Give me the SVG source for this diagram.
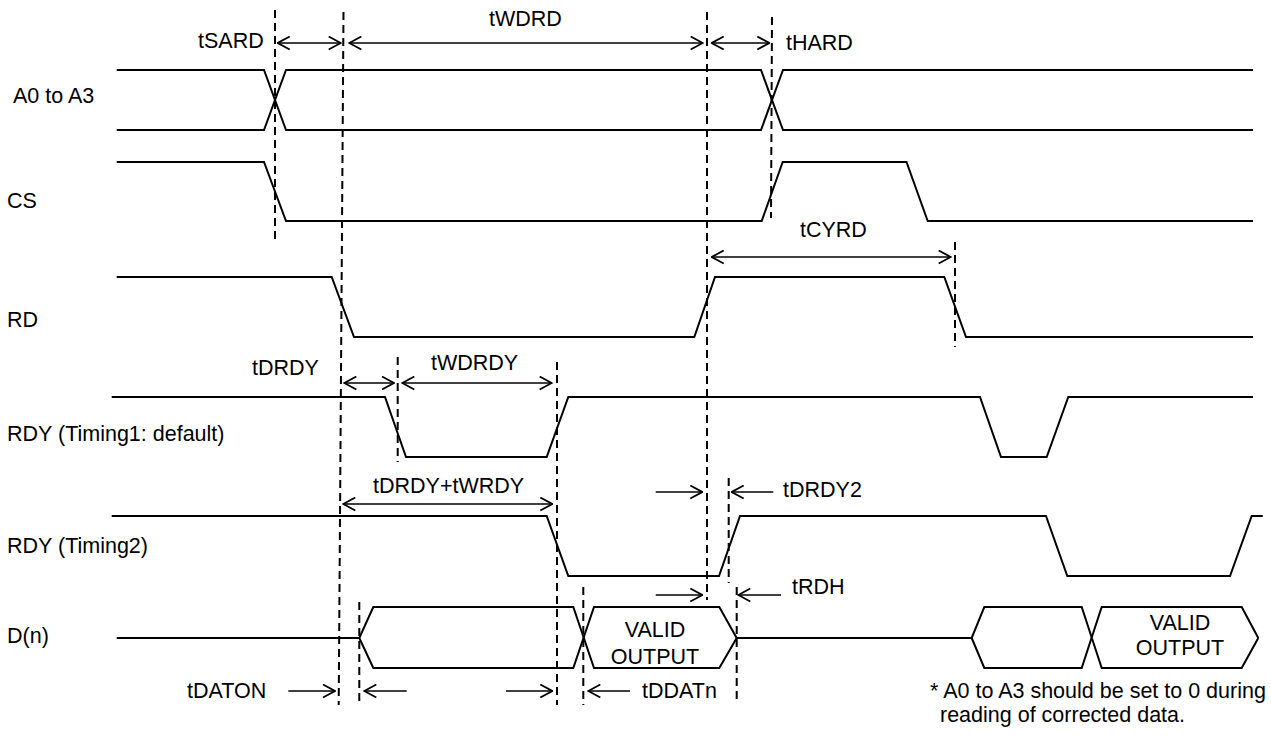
<svg xmlns="http://www.w3.org/2000/svg" width="1271" height="745" viewBox="0 0 1271 745">
<defs>
<style>
text{font-family:"Liberation Sans",Arial,sans-serif;font-size:21.5px;fill:#000}
.sig{fill:none;stroke:#000;stroke-width:2;stroke-linejoin:miter}
.dash{fill:none;stroke:#000;stroke-width:2;stroke-dasharray:8 5}
.dim{fill:none;stroke:#000;stroke-width:1.6}
.da{marker-start:url(#ah);marker-end:url(#ah)}
.sa{marker-end:url(#ah)}
.mid{text-anchor:middle}
</style>
<marker id="ah" viewBox="0 0 14 15" refX="13" refY="7.5" markerWidth="14" markerHeight="15" markerUnits="userSpaceOnUse" orient="auto-start-reverse">
<path d="M1,1 L13,7.5 L1,14" fill="none" stroke="#000" stroke-width="1.8"/>
</marker>
</defs>
<rect width="1271" height="745" fill="#fff"/>

<g id="sig-a0a3">
<text x="13" y="103">A0 to A3</text>
<path class="sig" d="M116.7,70 L264,70 L286,130 L761,130 L783,70 L1253,70"/>
<path class="sig" d="M116.7,130 L264,130 L286,70 L761,70 L783,130 L1253,130"/>
</g>
<g id="sig-cs">
<text x="7" y="208">CS</text>
<path class="sig" d="M116.7,162 L264,162 L286,221 L761.7,221 L782.7,162 L906.5,162 L927.7,221 L1253,221"/>
</g>
<g id="sig-rd">
<text x="7" y="327">RD</text>
<path class="sig" d="M116.7,277 L331.7,277 L354,337 L694.3,337 L715,277 L944.3,277 L966,337 L1253,337"/>
</g>
<g id="sig-rdy1">
<text x="7" y="441">RDY (Timing1: default)</text>
<path class="sig" d="M111.7,397 L385,397 L406,457 L546.7,457 L568.3,397 L980,397 L1001,457 L1046.7,457 L1068.3,397 L1253,397"/>
</g>
<g id="sig-rdy2">
<text x="7" y="553">RDY (Timing2)</text>
<path class="sig" d="M111.7,516 L546.7,516 L568.3,576 L719,576 L740,516 L1046,516 L1067.3,576 L1230,576 L1251.7,516 L1262.7,516"/>
</g>
<g id="sig-dn">
<text x="7" y="643">D(n)</text>
<path class="sig" d="M116.7,638 L359.3,638 L373.3,607 L573.3,607 L594,668 L719.3,668 L736.7,638 L971.7,638 L984.3,607 L1081.7,607 L1101.7,668 L1241.7,668 L1258.3,638"/>
<path class="sig" d="M359.3,638 L373.3,668 L573.3,668 L594,607 L719.3,607 L736.7,638 M971.7,638 L984.3,668 L1081.7,668 L1101.7,607 L1241.7,607 L1258.3,638"/>
<text class="mid" x="655" y="637">VALID</text>
<text class="mid" x="655" y="664">OUTPUT</text>
<text class="mid" x="1180" y="630">VALID</text>
<text class="mid" x="1180" y="655">OUTPUT</text>
</g>

<g id="guides">
<line class="dash" x1="275" y1="10" x2="275" y2="242"/>
<line class="dash" x1="343.5" y1="12" x2="338.7" y2="705"/>
<line class="dash" x1="707" y1="12" x2="707" y2="600"/>
<line class="dash" x1="772" y1="17" x2="771" y2="218"/>
<line class="dash" x1="955" y1="242" x2="955" y2="347"/>
<line class="dash" x1="397.7" y1="357" x2="397.7" y2="462"/>
<line class="dash" x1="557" y1="362" x2="557" y2="705"/>
<line class="dash" x1="359.3" y1="602" x2="359.3" y2="705"/>
<line class="dash" x1="583.3" y1="587" x2="583.3" y2="705"/>
<line class="dash" x1="728.7" y1="478" x2="728.7" y2="583"/>
<line class="dash" x1="736.7" y1="587" x2="736.7" y2="700"/>
</g>

<g id="connectors">
<line class="dim da" x1="277.7" y1="43" x2="340.7" y2="43"/>
<line class="dim da" x1="349.3" y1="43" x2="702.7" y2="43"/>
<line class="dim da" x1="711.7" y1="43" x2="769.3" y2="43"/>
<line class="dim da" x1="711.7" y1="257" x2="950.7" y2="257"/>
<line class="dim da" x1="344.3" y1="383" x2="394" y2="383"/>
<line class="dim da" x1="402.3" y1="383" x2="551.7" y2="383"/>
<line class="dim da" x1="343.3" y1="504" x2="552.3" y2="504"/>
<line class="dim sa" x1="655.7" y1="492" x2="702.3" y2="492"/>
<line class="dim sa" x1="773.3" y1="492" x2="731.7" y2="492"/>
<line class="dim sa" x1="655.7" y1="595" x2="702.3" y2="595"/>
<line class="dim sa" x1="781" y1="595" x2="738.3" y2="595"/>
<line class="dim sa" x1="288.3" y1="691" x2="335" y2="691"/>
<line class="dim sa" x1="406.7" y1="691" x2="364.3" y2="691"/>
<line class="dim sa" x1="506" y1="691" x2="552.3" y2="691"/>
<line class="dim sa" x1="630" y1="691" x2="588.3" y2="691"/>
</g>

<g id="labels">
<text x="198" y="48">tSARD</text>
<text x="489" y="26">tWDRD</text>
<text x="786" y="50">tHARD</text>
<text x="800" y="237">tCYRD</text>
<text x="252" y="375">tDRDY</text>
<text x="431" y="370">tWDRDY</text>
<text x="373" y="493">tDRDY+tWRDY</text>
<text x="783" y="497">tDRDY2</text>
<text x="792" y="594">tRDH</text>
<text x="187" y="698">tDATON</text>
<text x="642" y="698">tDDATn</text>
<text x="930" y="698">* A0 to A3 should be set to 0 during</text>
<text x="940" y="722">reading of corrected data.</text>
</g>
</svg>
